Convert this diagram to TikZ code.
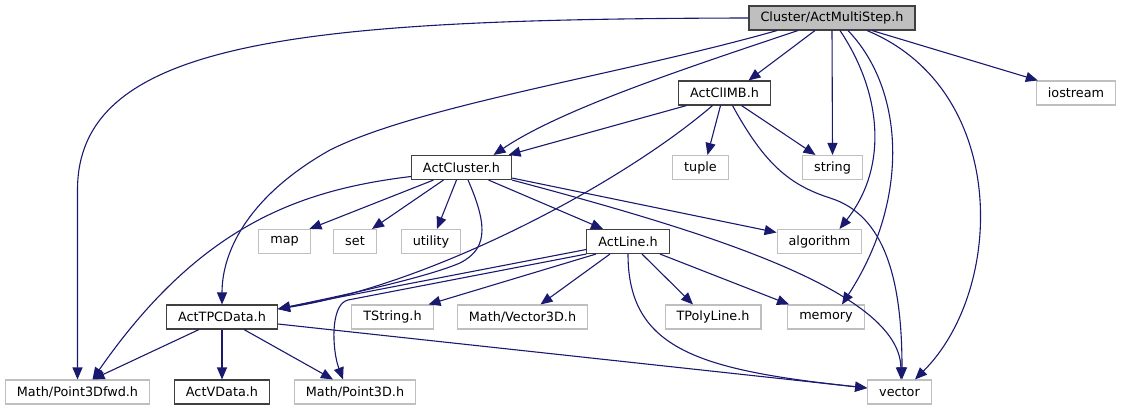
\documentclass[tikz,border=0pt]{standalone}
\usepackage{fontspec}
\setmainfont{DejaVu Sans}
\usepackage{tikz}
\usetikzlibrary{arrows.meta, positioning}
\definecolor{edgeblue}{RGB}{25,25,112}
\definecolor{greyline}{RGB}{191,191,191}
\definecolor{greyfill}{RGB}{191,191,191}
\definecolor{boxdark}{RGB}{64,64,64}
\tikzset{
  hdrbox/.style={rectangle, draw=boxdark, fill=white, line width=1.1pt,
    minimum height=24pt, inner xsep=11.5pt, font=\fontsize{12.8pt}{14pt}\selectfont},
  sysbox/.style={hdrbox, draw=greyline},
  rootbox/.style={hdrbox, fill=greyfill},
  arrow/.style={-{Triangle[length=12pt,width=10pt]}, line width=1.1pt, color=edgeblue}
}

\begin{document}
\begin{tikzpicture}[x=1pt, y=-1pt]
  \useasboundingbox (0,0) rectangle (1123,411);

  % Headers
  \node[rootbox] (root) at (832,18) {Cluster/ActMultiStep.h};
  \node[hdrbox] (climb) at (724.5,93) {ActClIMB.h};
  \node[sysbox] (iostream) at (1076,93) {iostream};
  \node[hdrbox] (cluster) at (461.5,167.5) {ActCluster.h};
  \node[sysbox] (tuple) at (700.5,167.5) {tuple};
  \node[sysbox] (string) at (832.5,167.5) {string};
  \node[sysbox] (map) at (284.5,241.5) {map};
  \node[sysbox] (set) at (355,241.5) {set};
  \node[sysbox] (utility) at (431,241.5) {utility};
  \node[hdrbox] (actline) at (628,241.5) {ActLine.h};
  \node[sysbox] (algorithm) at (819.5,241.5) {algorithm};
  \node[hdrbox] (tpcdata) at (222,317) {ActTPCData.h};
  \node[sysbox] (tstring) at (392.5,317) {TString.h};
  \node[sysbox] (vector3d) at (522.5,317) {Math/Vector3D.h};
  \node[sysbox] (tpolyline) at (713,317) {TPolyLine.h};
  \node[sysbox] (memory) at (826,317) {memory};
  \node[sysbox] (p3dfwd) at (77.5,392) {Math/Point3Dfwd.h};
  \node[hdrbox] (vdata) at (222,392) {ActVData.h};
  \node[sysbox] (p3d) at (355,392) {Math/Point3D.h};
  \node[sysbox] (vector) at (899.5,392) {vector};

  % Includes of ActMultiStep.h
  \draw[arrow] (root.west) .. controls (300,19) and (77.5,40) .. (77.5,190) -- (p3dfwd.north);
  \draw[arrow] ([xshift=-55pt]root.south) .. controls (620,75) and (420,105) .. (330,150)
    .. controls (250,195) and (222,250) .. (tpcdata.north);
  \draw[arrow] ([xshift=-34pt]root.south) .. controls (680,70) and (560,110) .. ([xshift=32pt]cluster.north);
  \draw[arrow] ([xshift=-17pt]root.south) -- ([xshift=24pt]climb.north);
  \draw[arrow] (root.south) -- (string.north);
  \draw[arrow] ([xshift=8pt]root.south) .. controls (880,90) and (890,165) .. ([xshift=20pt]algorithm.north);
  \draw[arrow] ([xshift=16pt]root.south) .. controls (905,90) and (910,200) .. ([xshift=16pt]memory.north);
  \draw[arrow] ([xshift=35pt]root.south) .. controls (1010,90) and (1005,290) .. ([xshift=15.5pt]vector.north);
  \draw[arrow] ([xshift=40pt]root.south) -- ([xshift=2pt]iostream.north west);

  % Includes of ActClIMB.h
  \draw[arrow] ([xshift=-38pt]climb.south) -- ([xshift=47pt]cluster.north);
  \draw[arrow] ([xshift=-12pt]climb.south) .. controls (620,185) and (430,285) .. ([yshift=8pt]tpcdata.east);
  \draw[arrow] ([xshift=-4pt]climb.south) -- ([xshift=7pt]tuple.north);
  \draw[arrow] ([xshift=17pt]climb.south) -- ([xshift=-17pt]string.north);
  \draw[arrow] ([xshift=8pt]climb.south) .. controls (765,165) and (790,185) .. (830,198)
    .. controls (885,215) and (902,280) .. ([xshift=2.5pt]vector.north);

  % Includes of ActCluster.h
  \draw[arrow] ([yshift=-9pt]cluster.west) .. controls (300,190) and (200,225) .. ([xshift=15pt]p3dfwd.north);
  \draw[arrow] ([xshift=-28pt]cluster.south) -- ([xshift=25pt]map.north);
  \draw[arrow] ([xshift=-18pt]cluster.south) -- ([xshift=17pt]set.north);
  \draw[arrow] ([xshift=-5pt]cluster.south) -- ([xshift=6pt]utility.north);
  \draw[arrow] ([xshift=6.5pt]cluster.south) .. controls (490,230) and (485,250) .. (460,263)
    .. controls (420,280) and (320,300) .. ([yshift=8pt]tpcdata.east);
  \draw[arrow] ([xshift=27pt]cluster.south) -- ([xshift=-25pt]actline.north);
  \draw[arrow] ([yshift=2pt]cluster.south east) -- ([yshift=9pt]algorithm.west);
  \draw[arrow] (cluster.south east) .. controls (700,230) and (900,290) .. ([xshift=1.5pt]vector.north);

  % Includes of ActLine.h
  \draw[arrow] ([yshift=-8pt]actline.west) -- ([yshift=8pt]tpcdata.east);
  \draw[arrow] (actline.south west) -- (348,300) .. controls (330,304) and (332,350) .. ([xshift=-12pt]p3d.north);
  \draw[arrow] ([xshift=-32pt]actline.south) -- ([xshift=36pt]tstring.north);
  \draw[arrow] ([xshift=-18pt]actline.south) -- ([xshift=18pt]vector3d.north);
  \draw[arrow] ([xshift=14pt]actline.south) -- ([xshift=-20pt]tpolyline.north);
  \draw[arrow] ([xshift=32pt]actline.south) -- ([xshift=-37pt]memory.north);
  \draw[arrow] (actline.south) .. controls (628,350) and (700,370) .. ([yshift=4pt]vector.west);

  % Includes of ActTPCData.h
  \draw[arrow] ([xshift=-23pt]tpcdata.south) -- ([xshift=15pt]p3dfwd.north);
  \draw[arrow] (tpcdata.south) -- (vdata.north);
  \draw[arrow] ([xshift=22pt]tpcdata.south) -- ([xshift=-22pt]p3d.north);
  \draw[arrow] ([yshift=-7pt]tpcdata.east) -- ([yshift=4pt]vector.west);
\end{tikzpicture}
\end{document}
